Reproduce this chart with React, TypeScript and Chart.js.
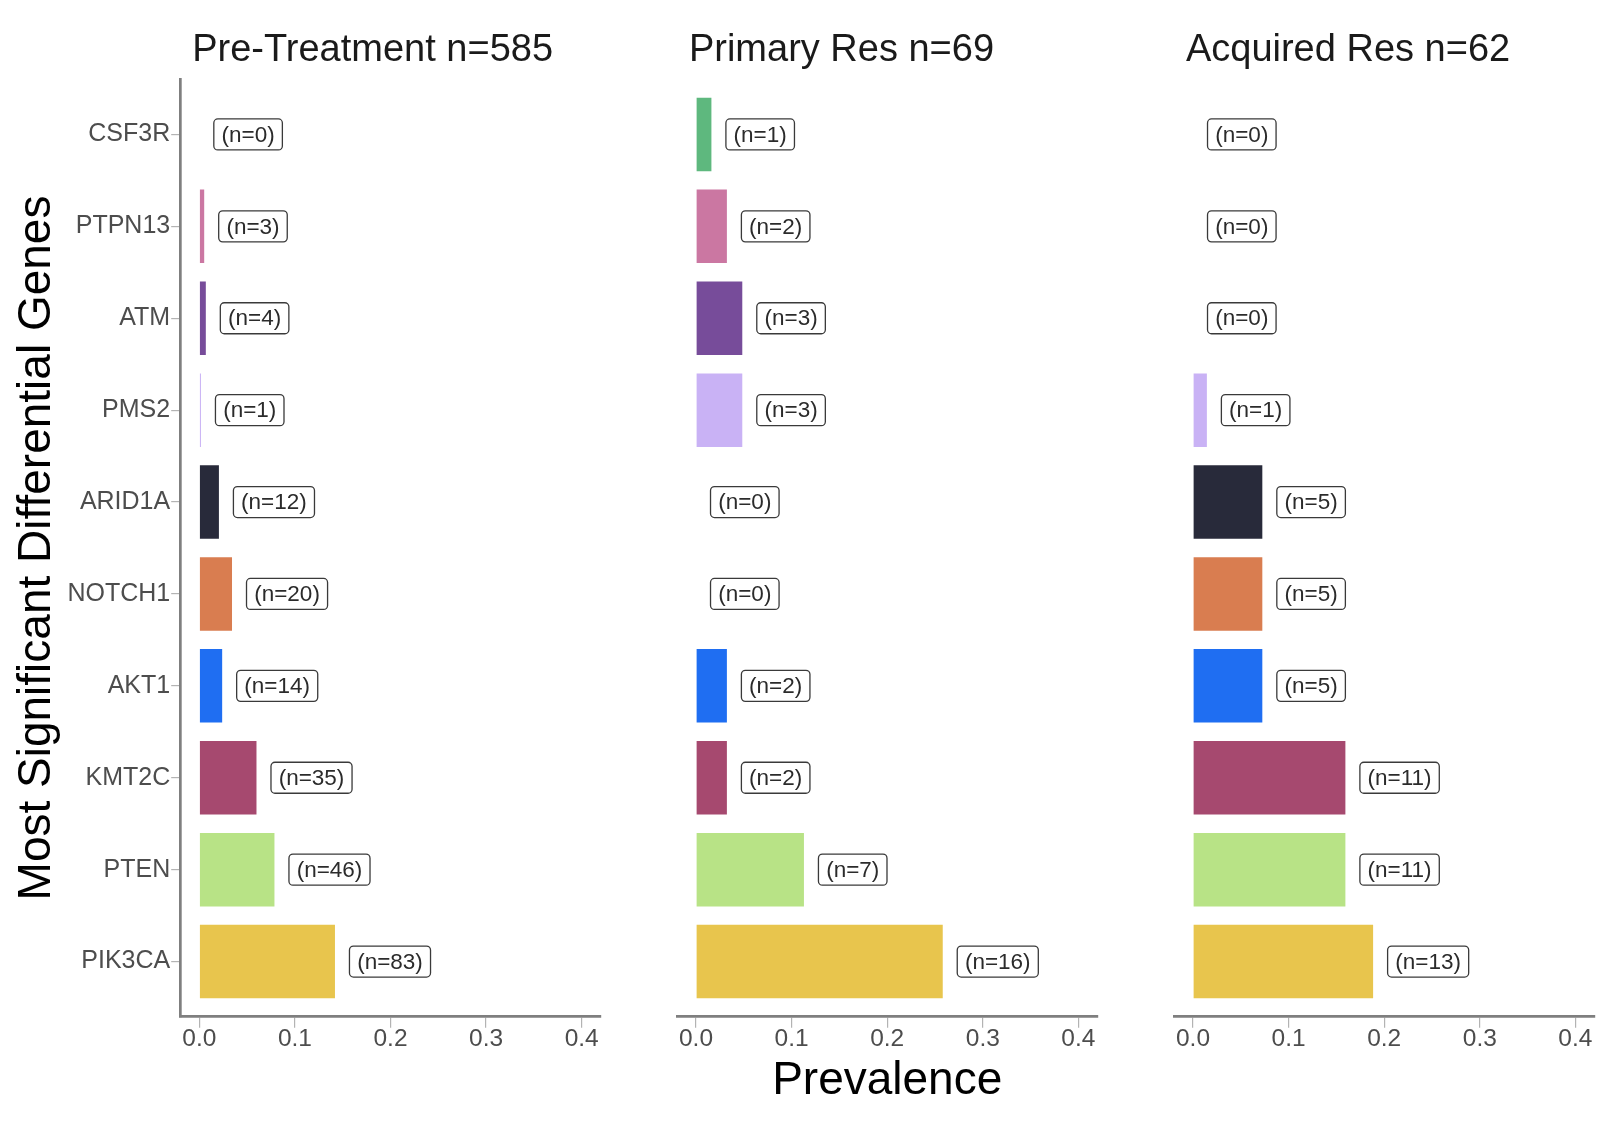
import React, { useEffect, useRef } from "react";
import { Chart, registerables } from "chart.js";
Chart.register(...registerables);

Chart.defaults.font.family = '"Liberation Sans", Arial, sans-serif';

// genes, top to bottom
const genes = ["CSF3R", "PTPN13", "ATM", "PMS2", "ARID1A", "NOTCH1", "AKT1", "KMT2C", "PTEN", "PIK3CA"];
const geneColors = ["#5EB87E", "#CB77A2", "#774C9A", "#C9B2F5", "#282A3A", "#D97D50", "#1F6EF2", "#A6496F", "#B8E386", "#E8C54D"];

const panelTitles = ["Pre-Treatment n=585", "Primary Res n=69", "Acquired Res n=62"];

// prevalence per gene
const preTreatment = [0, 0.0051, 0.0068, 0.0017, 0.0205, 0.0342, 0.0239, 0.0598, 0.0786, 0.1419];
const primaryRes = [0.0161, 0.0323, 0.0484, 0.0484, 0, 0, 0.0323, 0.0323, 0.1129, 0.2581];
const acquiredRes = [0, 0, 0, 0.0145, 0.0725, 0.0725, 0.0725, 0.1594, 0.1594, 0.1884];

// counts shown in the boxes
const preTreatmentN = [0, 3, 4, 1, 12, 20, 14, 35, 46, 83];
const primaryResN = [1, 2, 3, 3, 0, 0, 2, 2, 7, 16];
const acquiredResN = [0, 0, 0, 1, 5, 5, 5, 11, 11, 13];

const xTicks = [0, 0.1, 0.2, 0.3, 0.4];

const H = 1122;
const PLOT_W = 420.6;
const FONT = '"Liberation Sans", Arial, sans-serif';

type PanelProps = {
  left: number;
  width: number;
  areaLeft: number; // chart area left inside the canvas
  title: string;
  values: number[];
  counts: number[];
  showY: boolean;
  showXTitle: boolean;
};

const Panel: React.FC<PanelProps> = ({ left, width, areaLeft, title, values, counts, showY, showXTitle }) => {
  const ref = useRef<HTMLCanvasElement | null>(null);
  const chartRef = useRef<Chart | null>(null);

  useEffect(() => {
    if (!ref.current) return;

    const extras = {
      id: "panelExtras",
      afterDatasetsDraw(chart: any) {
        const { ctx, chartArea, scales } = chart;
        const xs = scales.x;
        const ys = scales.y;
        ctx.save();
        // count labels
        ctx.font = `22.5px ${FONT}`;
        ctx.textBaseline = "middle";
        ctx.textAlign = "left";
        values.forEach((v, i) => {
          const txt = `(n=${counts[i]})`;
          const x = xs.getPixelForValue(v) + 14.5;
          const y = ys.getPixelForValue(i);
          const w = ctx.measureText(txt).width + 15.4;
          const h = 31;
          ctx.beginPath();
          ctx.roundRect(x, y - h / 2, w, h, 4);
          ctx.fillStyle = "#ffffff";
          ctx.fill();
          ctx.lineWidth = 1.3;
          ctx.strokeStyle = "#3a3a3a";
          ctx.stroke();
          ctx.fillStyle = "#2b2b2b";
          ctx.fillText(txt, x + 7.7, y + 1);
        });
        // panel title
        ctx.font = `38px ${FONT}`;
        ctx.fillStyle = "#1a1a1a";
        ctx.fillText(title, chartArea.left + 12, 51);
        ctx.restore();
      },
    };

    chartRef.current = new Chart(ref.current, {
      type: "bar",
      data: {
        datasets: [
          {
            data: values.map((v, i) => ({ x: v, y: i })),
            backgroundColor: geneColors,
            barPercentage: 0.8,
            categoryPercentage: 1,
            borderWidth: 0,
          },
        ],
      },
      options: {
        animation: false,
        responsive: false,
        indexAxis: "y",
        layout: {
          padding: {
            left: showY ? 0 : areaLeft,
            right: width - areaLeft - PLOT_W,
            top: 79.3,
            bottom: 0,
          },
        },
        plugins: {
          legend: { display: false },
          tooltip: { enabled: false },
          title: { display: false },
        },
        scales: {
          x: {
            type: "linear",
            min: -0.02,
            max: 0.42,
            afterBuildTicks: (s: any) => {
              s.ticks = xTicks.map((v) => ({ value: v }));
            },
            afterFit: (s: any) => {
              s.height = H - 1016.7;
            },
            ticks: {
              callback: (v: any) => Number(v).toFixed(1),
              color: "#4d4d4d",
              font: { size: 24.5, lineHeight: 0.9 },
              padding: 1,
              maxRotation: 0,
              autoSkip: false,
            },
            grid: {
              drawOnChartArea: false,
              drawTicks: true,
              tickLength: 11,
              color: "#b3b3b3",
              lineWidth: 1.2,
            },
            border: { display: true, color: "#7f7f7f", width: 2.7 },
            title: {
              display: showXTitle,
              text: "Prevalence",
              color: "#000000",
              font: { size: 46 },
              padding: { top: 0, bottom: 13.4 },
            },
          },
          y: {
            type: "linear",
            display: showY,
            offset: false,
            min: -0.6,
            max: 9.6,
            reverse: true,
            afterBuildTicks: (s: any) => {
              s.ticks = genes.map((_, i) => ({ value: i }));
            },
            afterFit: (s: any) => {
              s.width = showY ? areaLeft : 0;
            },
            ticks: {
              callback: (v: any) => genes[Number(v)],
              color: "#4d4d4d",
              font: { size: 25 },
              padding: 1,
              autoSkip: false,
            },
            grid: {
              offset: false,
              drawOnChartArea: false,
              drawTicks: true,
              tickLength: 9,
              color: "#b3b3b3",
              lineWidth: 1.2,
            },
            border: { display: true, color: "#7f7f7f", width: 2.7 },
            title: {
              display: true,
              text: "Most Significant Differential Genes",
              color: "#000000",
              font: { size: 46 },
              padding: { top: 9.4, bottom: 0 },
            },
          },
        },
      },
      plugins: [extras],
    } as any);

    return () => {
      if (chartRef.current) {
        chartRef.current.destroy();
        chartRef.current = null;
      }
    };
  }, [left, width, areaLeft, title, values, counts, showY, showXTitle]);

  return (
    <canvas
      ref={ref}
      width={width}
      height={H}
      style={{ position: "absolute", left, top: 0, width, height: H }}
    />
  );
};

const App: React.FC = () => {
  return (
    <div style={{ position: "absolute", left: 0, top: 0, width: 1610, height: H, background: "#ffffff" }}>
      <Panel left={0} width={620} areaLeft={180.2} title={panelTitles[0]} values={preTreatment} counts={preTreatmentN} showY={true} showXTitle={false} />
      <Panel left={620} width={500} areaLeft={56.9} title={panelTitles[1]} values={primaryRes} counts={primaryResN} showY={false} showXTitle={true} />
      <Panel left={1120} width={490} areaLeft={53.9} title={panelTitles[2]} values={acquiredRes} counts={acquiredResN} showY={false} showXTitle={false} />
    </div>
  );
};

export default App;
